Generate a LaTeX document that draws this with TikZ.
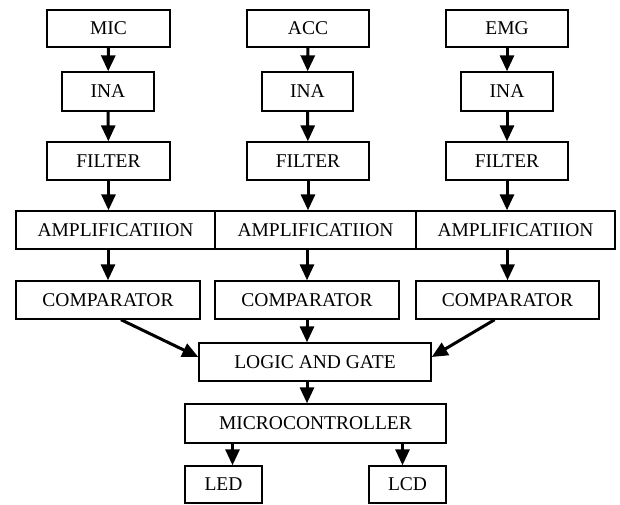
\documentclass[tikz,border=0pt]{standalone}
\usepackage{fontspec}
\setmainfont{Liberation Serif}
\usetikzlibrary{arrows.meta,calc}
\begin{document}
\begin{tikzpicture}[x=1pt,y=-1pt,
  box/.style={draw,line width=1.4pt,inner sep=0pt,font=\fontsize{19.5}{21}\selectfont},
  flow/.style={line width=3pt,-{Triangle[width=14pt,length=16pt]}}]
\useasboundingbox (0,0) rectangle (620,504);
% column 1
\node[box,minimum width=123pt,minimum height=37pt] (mic) at (108.5,28.5) {MIC};
\node[box,minimum width=92pt,minimum height=39pt] (inal) at (108,91.5) {INA};
\node[box,minimum width=123pt,minimum height=38pt] (fill) at (108.5,161) {FILTER};
\node[box,minimum width=199pt,minimum height=38pt] (ampl) at (115.5,230) {AMPLIFICATIION};
\node[box,minimum width=184pt,minimum height=38pt] (compl) at (108,300) {COMPARATOR};
% column 2
\node[box,minimum width=122pt,minimum height=37pt] (acc) at (308,28.5) {ACC};
\node[box,minimum width=91pt,minimum height=39pt] (inam) at (307.5,91.5) {INA};
\node[box,minimum width=122pt,minimum height=38pt] (film) at (308,161) {FILTER};
\node[box,minimum width=201pt,minimum height=38pt] (ampm) at (315.5,230) {AMPLIFICATIION};
\node[box,minimum width=184pt,minimum height=38pt] (compm) at (307,300) {COMPARATOR};
% column 3
\node[box,minimum width=122pt,minimum height=37pt] (emg) at (507,28.5) {EMG};
\node[box,minimum width=92pt,minimum height=39pt] (inar) at (507,91.5) {INA};
\node[box,minimum width=122pt,minimum height=38pt] (filr) at (507,161) {FILTER};
\node[box,minimum width=199pt,minimum height=38pt] (ampr) at (515.5,230) {AMPLIFICATIION};
\node[box,minimum width=183pt,minimum height=38pt] (compr) at (507.5,300) {COMPARATOR};
% bottom
\node[box,minimum width=232pt,minimum height=38pt] (logic) at (315,362) {LOGIC AND GATE};
\node[box,minimum width=261pt,minimum height=39pt] (micro) at (315.5,423.5) {MICROCONTROLLER};
\node[box,minimum width=77pt,minimum height=37pt] (led) at (223.5,484.5) {LED};
\node[box,minimum width=77pt,minimum height=37pt] (lcd) at (407.5,484.5) {LCD};
% arrows
\draw[flow] (mic) -- (inal);
\draw[flow] (inal) -- (fill);
\draw[flow] (fill.south) -- (fill.south |- ampl.north);
\draw[flow] (compl.north |- ampl.south) -- (compl.north);
\draw[flow] (acc) -- (inam);
\draw[flow] (inam) -- (film);
\draw[flow] (film.south) -- (film.south |- ampm.north);
\draw[flow] (compm.north |- ampm.south) -- (compm.north);
\draw[flow] (emg) -- (inar);
\draw[flow] (inar) -- (filr);
\draw[flow] (filr.south) -- (filr.south |- ampr.north);
\draw[flow] (compr.north |- ampr.south) -- (compr.north);
\draw[flow] ($(compl.south west)!0.57!(compl.south east)$) -- ($(logic.west)+(0,-5)$);
\draw[flow] (compm.south) -- (compm.south |- logic.north);
\draw[flow] ($(compr.south west)!0.43!(compr.south east)$) -- ($(logic.east)+(0,-5)$);
\draw[flow] (logic.south -| compm.south) -- (micro.north -| compm.south);
\coordinate (ledin) at ($(led.north)+(9,0)$);
\coordinate (lcdin) at ($(lcd.north)+(-5,0)$);
\draw[flow] (micro.south -| ledin) -- (ledin);
\draw[flow] (micro.south -| lcdin) -- (lcdin);
\end{tikzpicture}
\end{document}
